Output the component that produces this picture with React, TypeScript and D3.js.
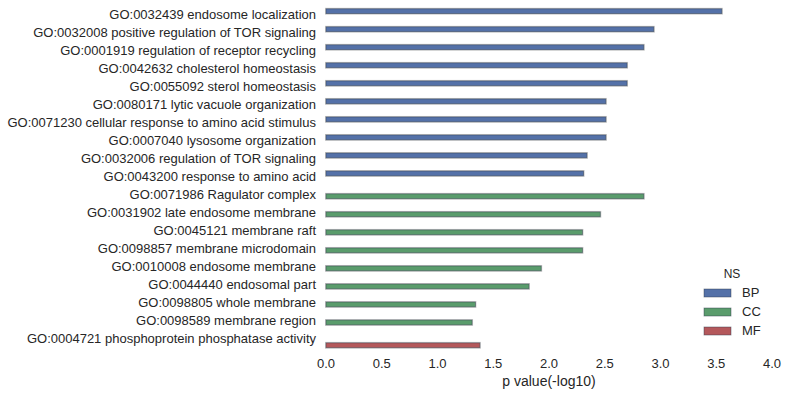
import React from "react";
import * as d3 from "d3";

// GO terms, top to bottom
const terms = [
  "GO:0032439 endosome localization",
  "GO:0032008 positive regulation of TOR signaling",
  "GO:0001919 regulation of receptor recycling",
  "GO:0042632 cholesterol homeostasis",
  "GO:0055092 sterol homeostasis",
  "GO:0080171 lytic vacuole organization",
  "GO:0071230 cellular response to amino acid stimulus",
  "GO:0007040 lysosome organization",
  "GO:0032006 regulation of TOR signaling",
  "GO:0043200 response to amino acid",
  "GO:0071986 Ragulator complex",
  "GO:0031902 late endosome membrane",
  "GO:0045121 membrane raft",
  "GO:0098857 membrane microdomain",
  "GO:0010008 endosome membrane",
  "GO:0044440 endosomal part",
  "GO:0098805 whole membrane",
  "GO:0098589 membrane region",
  "GO:0004721 phosphoprotein phosphatase activity",
];
const namespaces = ["BP", "BP", "BP", "BP", "BP", "BP", "BP", "BP", "BP", "BP",
  "CC", "CC", "CC", "CC", "CC", "CC", "CC", "CC", "MF"];
const pvals = [3.55, 2.94, 2.85, 2.70, 2.70, 2.51, 2.51, 2.51, 2.34, 2.31,
  2.85, 2.46, 2.30, 2.30, 1.93, 1.82, 1.34, 1.31, 1.38];

const nsKeys = ["BP", "CC", "MF"];
const nsColors = ["#5471a8", "#5a9c6c", "#b4585b"];
const xTicks = [0, 0.5, 1, 1.5, 2, 2.5, 3, 3.5, 4];

const W = 788, H = 397;
const left = 326, right = 772, top = 7, bottom = 349.5;
const font = "'Liberation Sans', Arial, sans-serif";

export default function App() {
  const x = d3.scaleLinear().domain([0, 4]).range([left, right]);
  const y = d3.scaleBand<string>().domain(terms).range([top, bottom]);
  const hue = d3.scaleBand<string>().domain(nsKeys)
    .range([y.bandwidth() * 0.1, y.bandwidth() * 0.9]);
  const color = d3.scaleOrdinal<string, string>().domain(nsKeys).range(nsColors);

  return (
    <svg width={W} height={H} style={{ position: "absolute", left: 0, top: 0, background: "#fff" }}
      fontFamily={font}>
      {terms.map((t, i) => {
        const y0 = (y(t) as number) + (hue(namespaces[i]) as number);
        const w = x(pvals[i]) - x(0);
        return (
          <g key={t}>
            <rect x={x(0)} y={y0} width={w} height={hue.bandwidth()}
              fill="none" stroke="#c8c8c8" strokeWidth={2} />
            <rect x={x(0)} y={y0} width={w} height={hue.bandwidth()}
              fill={color(namespaces[i])} stroke="#2e3a4a" strokeOpacity={0.55} strokeWidth={0.8} />
            <text x={left - 10} y={(y(t) as number) + y.bandwidth() / 2 - 0.8}
              textAnchor="end" dominantBaseline="middle" fontSize={13} fill="#262626">{t}</text>
          </g>
        );
      })}
      {xTicks.map((v) => (
        <text key={v} x={x(v)} y={364.5} textAnchor="middle" dominantBaseline="middle"
          fontSize={13} fill="#262626">{d3.format(".1f")(v)}</text>
      ))}
      <text x={(left + right) / 2} y={382.5} textAnchor="middle" dominantBaseline="middle"
        fontSize={14} fill="#262626">p value(-log10)</text>
      <g>
        <text x={732} y={275} textAnchor="middle" dominantBaseline="middle" fontSize={12} fill="#262626">NS</text>
        {nsKeys.map((k, i) => (
          <g key={k} transform={`translate(704, ${289 + i * 19})`}>
            <rect x={0} y={0} width={27} height={8} fill={color(k)} stroke="#2e3a4a"
              strokeOpacity={0.55} strokeWidth={0.8} />
            <text x={38} y={4.5} dominantBaseline="middle" fontSize={13} fill="#262626">{k}</text>
          </g>
        ))}
      </g>
    </svg>
  );
}
